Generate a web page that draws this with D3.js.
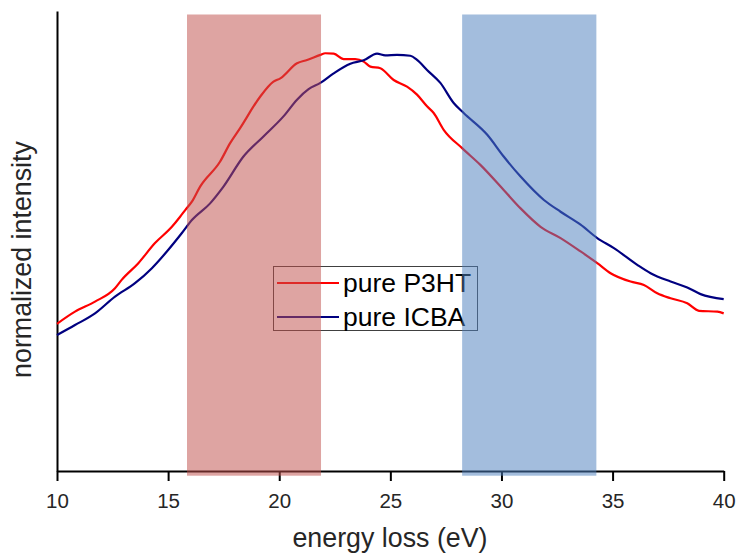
<!DOCTYPE html>
<html>
<head>
<meta charset="utf-8">
<script src="https://cdn.jsdelivr.net/npm/d3@7"></script>
<style>
  html, body { margin: 0; padding: 0; background: #fff; }
  svg { display: block; font-family: "Liberation Sans", Arial, sans-serif; }
</style>
</head>
<body>
<svg id="chart" width="736" height="555"></svg>
<script>
// Energy loss (eV) and normalized intensity for each film
const p3htEnergy = [10.0, 10.81, 11.71, 12.61, 12.91, 13.66, 14.41, 15.17, 15.54, 15.77, 16.07, 16.44, 17.34, 17.79, 18.24, 19.14, 19.74, 20.05, 20.80, 21.25, 21.85, 22.07, 22.45, 22.90, 23.42, 23.80, 24.10, 24.55, 25.15, 25.75, 26.20, 26.65, 26.95, 27.40, 28.23, 29.05, 30.10, 30.86, 31.76, 32.66, 33.56, 34.31, 34.91, 35.81, 36.41, 37.01, 37.61, 38.36, 38.89, 39.72, 40.0];
const p3htIntensity = [0.352, 0.381, 0.405, 0.437, 0.457, 0.497, 0.545, 0.584, 0.608, 0.624, 0.644, 0.680, 0.740, 0.784, 0.820, 0.895, 0.931, 0.939, 0.975, 0.983, 0.995, 0.999, 0.998, 0.985, 0.985, 0.979, 0.967, 0.963, 0.935, 0.919, 0.900, 0.872, 0.856, 0.816, 0.772, 0.732, 0.672, 0.628, 0.584, 0.557, 0.525, 0.497, 0.473, 0.453, 0.445, 0.425, 0.413, 0.401, 0.383, 0.381, 0.377];

const icbaEnergy = [10.0, 10.81, 11.71, 12.61, 13.51, 14.27, 15.01, 15.62, 16.07, 16.89, 17.49, 18.39, 19.29, 20.19, 20.80, 21.32, 21.85, 22.45, 23.20, 23.80, 24.40, 24.77, 25.30, 25.90, 26.20, 26.65, 27.25, 27.85, 28.30, 29.36, 30.10, 30.86, 31.91, 32.66, 33.56, 34.31, 35.06, 36.11, 36.71, 37.61, 38.36, 38.96, 40.0];
const icbaIntensity = [0.325, 0.349, 0.377, 0.417, 0.449, 0.485, 0.529, 0.569, 0.600, 0.640, 0.680, 0.752, 0.800, 0.848, 0.888, 0.913, 0.928, 0.951, 0.974, 0.982, 0.998, 0.994, 0.995, 0.993, 0.983, 0.959, 0.928, 0.880, 0.856, 0.804, 0.752, 0.704, 0.648, 0.620, 0.589, 0.557, 0.533, 0.493, 0.473, 0.453, 0.439, 0.423, 0.411];

const seriesNames = ["pure P3HT", "pure ICBA"];
const seriesColors = ["#ff0000", "#000080"];

// Highlighted energy windows (eV)
const bandStart = [15.85, 28.23];
const bandEnd = [21.88, 34.27];
const bandColors = ["#c0504d", "#4f81bd"];

const xTicks = [10, 15, 20, 25, 30, 35, 40];

const svg = d3.select("#chart");
const margin = { left: 57, right: 12.3, top: 11, bottom: 84 };
const W = 736, H = 555;

const x = d3.scaleLinear().domain([10, 40]).range([margin.left, W - margin.right]);
const y = d3.scaleLinear().domain([0, 1.1]).range([H - margin.bottom, margin.top]);

// Axes
const xAxis = svg.append("g")
  .attr("transform", `translate(0,${y(0)})`)
  .call(d3.axisBottom(x).tickValues(xTicks).tickSize(10).tickSizeOuter(0).tickPadding(12));
xAxis.select(".domain").attr("stroke", "#000").attr("stroke-width", 2);
xAxis.selectAll(".tick line").attr("stroke", "#000").attr("stroke-width", 2);
xAxis.selectAll(".tick text")
  .attr("font-size", 20.5)
  .attr("font-family", "'Liberation Sans', Arial, sans-serif")
  .attr("fill", "#262626");

const yAxis = svg.append("g")
  .attr("transform", `translate(${x(10)},0)`)
  .call(d3.axisLeft(y).tickValues([]).tickSizeOuter(0));
yAxis.select(".domain").attr("stroke", "#000").attr("stroke-width", 2);

// Axis titles
svg.append("text")
  .attr("x", 390).attr("y", 547)
  .attr("text-anchor", "middle")
  .attr("font-size", 26.8)
  .attr("fill", "#262626")
  .text("energy loss (eV)");

svg.append("text")
  .attr("transform", "translate(31,259.5) rotate(-90)")
  .attr("text-anchor", "middle")
  .attr("font-size", 26.8)
  .attr("fill", "#262626")
  .text("normalized intensity");

// Spectra
const line = d3.line().curve(d3.curveMonotoneX).x(d => x(d[0])).y(d => y(d[1]));
const series = [
  d3.zip(p3htEnergy, p3htIntensity),
  d3.zip(icbaEnergy, icbaIntensity)
];
series.forEach((pts, i) => {
  svg.append("path")
    .datum(pts)
    .attr("fill", "none")
    .attr("stroke", seriesColors[i])
    .attr("stroke-width", 2.2)
    .attr("stroke-linejoin", "round")
    .attr("d", line);
});

// Legend
const legend = svg.append("g");
legend.append("rect")
  .attr("x", 273.5).attr("y", 266.5)
  .attr("width", 204).attr("height", 64)
  .attr("fill", "none")
  .attr("stroke", "#404040")
  .attr("stroke-width", 1);
seriesNames.forEach((name, i) => {
  const ly = 283 + i * 34;
  legend.append("line")
    .attr("x1", 277).attr("x2", 339)
    .attr("y1", ly).attr("y2", ly)
    .attr("stroke", seriesColors[i])
    .attr("stroke-width", 2.2);
  legend.append("text")
    .attr("x", 343).attr("y", ly + 9)
    .attr("font-size", 26.5)
    .attr("fill", "#000")
    .text(name);
});

// Translucent energy windows laid over the plot
bandStart.forEach((s, i) => {
  svg.append("rect")
    .attr("x", x(s))
    .attr("width", x(bandEnd[i]) - x(s))
    .attr("y", margin.top + 3.5)
    .attr("height", y(0) + 4.7 - (margin.top + 3.5))
    .attr("fill", bandColors[i])
    .attr("fill-opacity", 0.52);
});
</script>
</body>
</html>
